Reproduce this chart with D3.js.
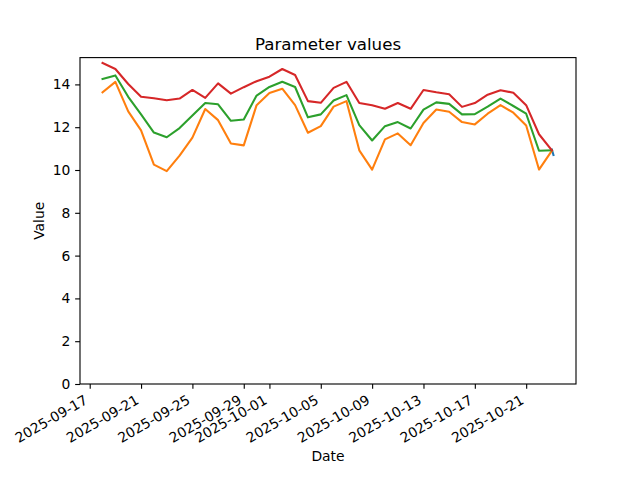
<!DOCTYPE html>
<html>
<head>
<meta charset="utf-8">
<script src="https://cdn.jsdelivr.net/npm/d3@7"></script>
<style>
  html, body { margin: 0; padding: 0; background: #fff; }
  svg { display: block; }
  text { font-family: "DejaVu Sans", sans-serif; fill: #000; }
</style>
</head>
<body>
<svg id="chart" width="640" height="480"></svg>
<script>
// ---- data ----
const startDate = "2025-09-18";
const dates = d3.range(36).map(i => d3.timeDay.offset(new Date(startDate + "T00:00:00"), i));
const maxValues = [15.0, 14.72, 14.02, 13.42, 13.35, 13.26, 13.34, 13.74, 13.37, 14.05,
  13.57, 13.87, 14.15, 14.36, 14.72, 14.44, 13.22, 13.14, 13.84, 14.12,
  13.13, 13.03, 12.86, 13.13, 12.86, 13.74, 13.63, 13.54, 12.95, 13.13,
  13.52, 13.73, 13.61, 13.03, 11.67, 10.92];
const meanValues = [14.25, 14.42, 13.42, 12.6, 11.75, 11.53, 11.96, 12.55, 13.13, 13.07,
  12.3, 12.36, 13.48, 13.88, 14.12, 13.88, 12.46, 12.6, 13.25, 13.5,
  12.1, 11.38, 12.05, 12.24, 11.94, 12.82, 13.16, 13.09, 12.6, 12.61,
  12.96, 13.34, 12.99, 12.63, 10.9, 10.92];
const minValues = [13.63, 14.12, 12.74, 11.85, 10.25, 9.95, 10.67, 11.51, 12.85, 12.33,
  11.24, 11.15, 13.03, 13.6, 13.8, 13.03, 11.74, 12.05, 12.96, 13.22,
  10.92, 10.02, 11.43, 11.71, 11.16, 12.2, 12.83, 12.72, 12.24, 12.13,
  12.63, 13.03, 12.68, 12.08, 10.02, 10.9];
const currentDates = ["2025-10-23T00:00:00", "2025-10-23T03:00:00"];
const currentValues = [10.96, 10.7];
const xTickLabels = ["2025-09-17", "2025-09-21", "2025-09-25", "2025-09-29", "2025-10-01",
  "2025-10-05", "2025-10-09", "2025-10-13", "2025-10-17", "2025-10-21"];
const yTicks = [0, 2, 4, 6, 8, 10, 12, 14];
const seriesNames = ["current", "min", "mean", "max"];
const seriesColors = ["#1f77b4", "#ff7f0e", "#2ca02c", "#d62728"];

// ---- layout ----
const mLeft = 80, mRight = 576, mTop = 57.6, mBottom = 384;
const pt = 100 / 72;
const fs = 10 * pt;

const svg = d3.select("#chart");

const parseT = s => new Date(s);
const cDates = currentDates.map(parseT);

const series = [
  { dates: cDates, values: currentValues },
  { dates: dates, values: minValues },
  { dates: dates, values: meanValues },
  { dates: dates, values: maxValues }
];

const allDates = series.flatMap(s => s.dates);
const allVals = series.flatMap(s => s.values);
const xMin = d3.min(allDates), xMax = d3.max(allDates);
const xPad = (xMax - xMin) * 0.05;
const x = d3.scaleTime()
  .domain([new Date(+xMin - xPad), new Date(+xMax + xPad)])
  .range([mLeft, mRight]);

const vMin = d3.min(allVals), vMax = d3.max(allVals);
const y = d3.scaleLinear()
  .domain([0, vMax + 0.05 * (vMax - vMin)])
  .range([mBottom, mTop]);

// lines
const line = d3.line().x(d => x(d[0])).y(d => y(d[1]));
const g = svg.append("g");
series.forEach((s, i) => {
  g.append("path")
    .datum(s.dates.map((d, j) => [d, s.values[j]]))
    .attr("d", line)
    .attr("fill", "none")
    .attr("stroke", seriesColors[i])
    .attr("stroke-width", 1.5 * pt)
    .attr("stroke-linejoin", "round")
    .attr("stroke-linecap", "square")
    .attr("class", "series-" + seriesNames[i]);
});

// axes frame
svg.append("rect")
  .attr("x", mLeft).attr("y", mTop)
  .attr("width", mRight - mLeft).attr("height", mBottom - mTop)
  .attr("fill", "none").attr("stroke", "#000").attr("stroke-width", 0.8 * pt);

const tickLen = 3.5 * pt, tickPad = 3.5 * pt;

// y axis
const yAxis = d3.axisLeft(y).tickValues(yTicks).tickSize(tickLen).tickPadding(tickPad);
const yg = svg.append("g").attr("transform", `translate(${mLeft},0)`).call(yAxis);
yg.select(".domain").remove();
yg.selectAll(".tick line").attr("stroke", "#000").attr("stroke-width", 0.8 * pt);
yg.selectAll(".tick text")
  .attr("font-family", "DejaVu Sans")
  .attr("font-size", fs)
  .attr("fill", "#000");

// x axis
const xTickDates = xTickLabels.map(s => new Date(s + "T00:00:00"));
const xAxis = d3.axisBottom(x).tickValues(xTickDates).tickSize(tickLen).tickFormat(d3.timeFormat("%Y-%m-%d"));
const xg = svg.append("g").attr("transform", `translate(0,${mBottom})`).call(xAxis);
xg.select(".domain").remove();
xg.selectAll(".tick line").attr("stroke", "#000").attr("stroke-width", 0.8 * pt);
const asc = 0.76 * fs, desc = 0.24 * fs;
xg.selectAll(".tick text")
  .attr("font-family", "DejaVu Sans")
  .attr("font-size", fs)
  .attr("fill", "#000")
  .attr("text-anchor", "end")
  .attr("dy", null)
  .attr("y", null)
  .attr("transform", `translate(${-0.5 * desc},${tickLen + tickPad + 0.866 * asc}) rotate(-30)`);

// labels
svg.append("text")
  .attr("x", (mLeft + mRight) / 2).attr("y", 49.5)
  .attr("text-anchor", "middle")
  .attr("font-size", 12 * pt)
  .text("Parameter values");

svg.append("text")
  .attr("x", (mLeft + mRight) / 2).attr("y", 461)
  .attr("text-anchor", "middle")
  .attr("font-size", fs)
  .text("Date");

svg.append("text")
  .attr("transform", `translate(43.5,${(mTop + mBottom) / 2}) rotate(-90)`)
  .attr("text-anchor", "middle")
  .attr("font-size", fs)
  .text("Value");
</script>
</body>
</html>
